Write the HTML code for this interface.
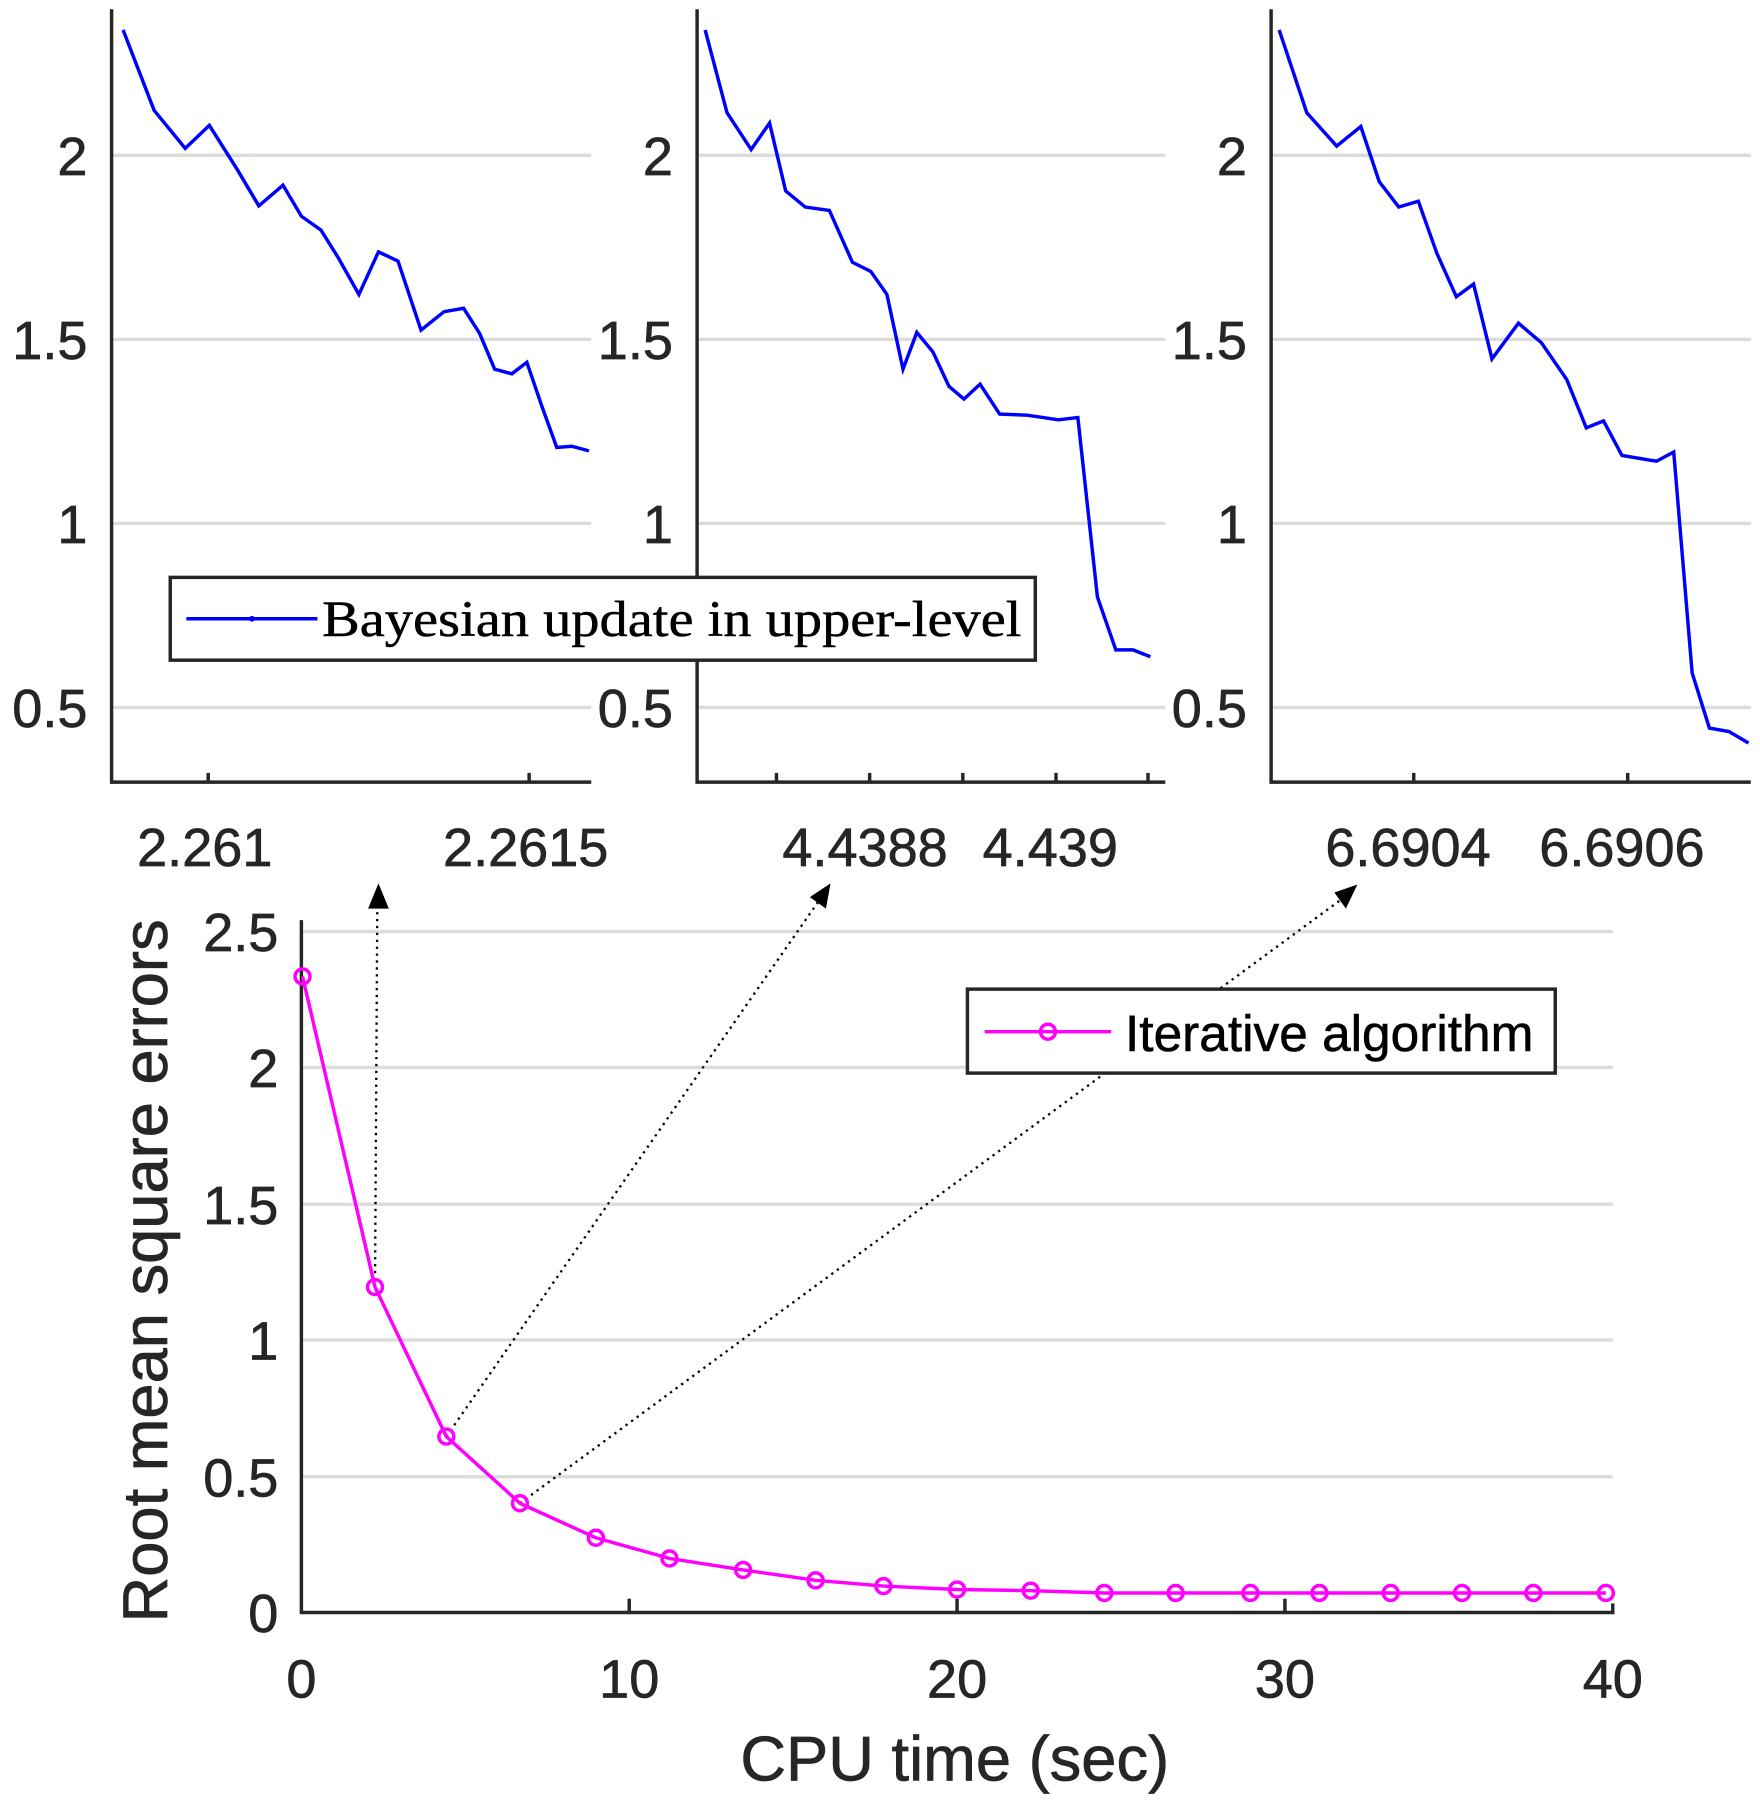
<!DOCTYPE html>
<html><head><meta charset="utf-8"><style>
html,body{margin:0;padding:0;background:#fff;}
svg{display:block;}
text{font-family:"Liberation Sans",sans-serif;fill:#262626;stroke:#262626;stroke-width:0.6;}
</style></head><body>
<svg width="1760" height="1800" viewBox="0 0 1530 1565" preserveAspectRatio="none" xmlns="http://www.w3.org/2000/svg">
<g stroke="#dcdcdc" stroke-width="3">
<line x1="97" y1="135" x2="514" y2="135"/><line x1="97" y1="295" x2="514" y2="295"/><line x1="97" y1="455" x2="514" y2="455"/><line x1="97" y1="615" x2="514" y2="615"/>
<line x1="606" y1="135" x2="1013" y2="135"/><line x1="606" y1="295" x2="1013" y2="295"/><line x1="606" y1="455" x2="1013" y2="455"/><line x1="606" y1="615" x2="1013" y2="615"/>
<line x1="1105" y1="135" x2="1522" y2="135"/><line x1="1105" y1="295" x2="1522" y2="295"/><line x1="1105" y1="455" x2="1522" y2="455"/><line x1="1105" y1="615" x2="1522" y2="615"/>
<line x1="262" y1="810" x2="1402" y2="810"/><line x1="262" y1="928" x2="1402" y2="928"/><line x1="262" y1="1047" x2="1402" y2="1047"/><line x1="262" y1="1165" x2="1402" y2="1165"/><line x1="262" y1="1284" x2="1402" y2="1284"/>
</g>
<g stroke="#262626" stroke-width="3" fill="none">
<polyline points="97,8 97,680 514,680"/><polyline points="606,8 606,680 1013,680"/><polyline points="1105,8 1105,680 1522,680"/>
<line x1="181" y1="680" x2="181" y2="672"/><line x1="460" y1="680" x2="460" y2="672"/>
<line x1="675" y1="680" x2="675" y2="672"/><line x1="756" y1="680" x2="756" y2="672"/><line x1="837" y1="680" x2="837" y2="672"/><line x1="918" y1="680" x2="918" y2="672"/><line x1="998" y1="680" x2="998" y2="672"/>
<line x1="1229" y1="680" x2="1229" y2="672"/><line x1="1415" y1="680" x2="1415" y2="672"/>
<polyline points="262,800 262,1402 1402,1402 1402,1394"/>
<line x1="547" y1="1402" x2="547" y2="1390"/><line x1="832" y1="1402" x2="832" y2="1390"/><line x1="1117" y1="1402" x2="1117" y2="1390"/>
</g>
<g font-size="47" text-anchor="end">
<text x="76" y="152">2</text><text x="76" y="312">1.5</text><text x="76" y="472">1</text><text x="76" y="632">0.5</text>
<text x="585" y="152">2</text><text x="585" y="312">1.5</text><text x="585" y="472">1</text><text x="585" y="632">0.5</text>
<text x="1084" y="152">2</text><text x="1084" y="312">1.5</text><text x="1084" y="472">1</text><text x="1084" y="632">0.5</text>
<text x="242" y="827">2.5</text><text x="242" y="945">2</text><text x="242" y="1064">1.5</text><text x="242" y="1182">1</text><text x="242" y="1301">0.5</text><text x="242" y="1419">0</text>
</g>
<g font-size="47" text-anchor="middle">
<text x="178" y="753">2.261</text><text x="457" y="753">2.2615</text>
<text x="752" y="753">4.4388</text><text x="913" y="753">4.439</text>
<text x="1224" y="753">6.6904</text><text x="1410" y="753">6.6906</text>
<text x="262" y="1476">0</text><text x="547" y="1476">10</text><text x="832" y="1476">20</text><text x="1117" y="1476">30</text><text x="1402" y="1476">40</text>
<text x="830" y="1548" font-size="55">CPU time (sec)</text>
<text transform="translate(145,1105) rotate(-90)" font-size="55">Root mean square errors</text>
</g>
<g stroke="#0000ff" stroke-width="3" fill="none">
<polyline points="107,26 134,96 161,129 182,109 206,147 225,179 246,161 262,188 279,200 294,224 312,256 329,219 346,227 366,287 386,271 403,268 417,290 430,321 445,325 458,315 471,353 484,389 497,388 512,392"/>
<polyline points="613,26 632,98 653,130 669,107 683,166 700,180 721,183 741,228 757,236 771,256 785,321 797,289 811,306 825,336 838,347 852,334 869,360 893,361 920,365 937,363 954,519 970,565 985,565 1000,571"/>
<polyline points="1112,26 1136,98 1162,127 1183,110 1199,158 1216,180 1233,175 1249,220 1266,258 1281,247 1297,312 1320,281 1340,298 1362,330 1379,372 1394,366 1410,396 1440,401 1455,393 1471,585 1486,633 1503,636 1520,646"/>
</g>
<rect x="148" y="502" width="752" height="72" fill="#fff" stroke="#262626" stroke-width="3"/>
<line x1="162" y1="538" x2="276" y2="538" stroke="#0000ff" stroke-width="3"/><circle cx="219" cy="538" r="2.5" fill="#0000ff"/>
<text x="280" y="553" font-size="44" textLength="608" lengthAdjust="spacingAndGlyphs" style="font-family:'Liberation Serif',serif;fill:#000;stroke:#000;stroke-width:0.4">Bayesian update in upper-level</text>
<g stroke="#000" stroke-width="2" stroke-dasharray="2,4" fill="none">
<line x1="326" y1="1119" x2="328" y2="785"/><line x1="388" y1="1249" x2="712" y2="783"/><line x1="452" y1="1307" x2="1166" y2="782"/>
</g>
<polygon points="329,768 320,790 338,790" fill="#000"/>
<polygon points="722,768 704,780 718,790" fill="#000"/>
<polygon points="1180,769 1160,776 1170,790" fill="#000"/>
<g stroke="#ff00ff" stroke-width="3" fill="none">
<polyline points="263,849 326,1119 388,1249 452,1307 518,1337 582,1355 646,1365 709,1374 768,1379 832,1382 896,1383 960,1385 1022,1385 1087,1385 1147,1385 1209,1385 1271,1385 1333,1385 1396,1385"/>
<g>
<circle cx="263" cy="849" r="6.5"/><circle cx="326" cy="1119" r="6.5"/><circle cx="388" cy="1249" r="6.5"/><circle cx="452" cy="1307" r="6.5"/><circle cx="518" cy="1337" r="6.5"/><circle cx="582" cy="1355" r="6.5"/><circle cx="646" cy="1365" r="6.5"/><circle cx="709" cy="1374" r="6.5"/><circle cx="768" cy="1379" r="6.5"/><circle cx="832" cy="1382" r="6.5"/><circle cx="896" cy="1383" r="6.5"/><circle cx="960" cy="1385" r="6.5"/><circle cx="1022" cy="1385" r="6.5"/><circle cx="1087" cy="1385" r="6.5"/><circle cx="1147" cy="1385" r="6.5"/><circle cx="1209" cy="1385" r="6.5"/><circle cx="1271" cy="1385" r="6.5"/><circle cx="1333" cy="1385" r="6.5"/><circle cx="1396" cy="1385" r="6.5"/>
</g></g>
<rect x="841" y="860" width="511" height="73" fill="#fff" stroke="#262626" stroke-width="3"/>
<line x1="856" y1="897" x2="966" y2="897" stroke="#ff00ff" stroke-width="3"/><circle cx="911" cy="897" r="6.5" fill="none" stroke="#ff00ff" stroke-width="3"/>
<text x="978" y="914" font-size="44" textLength="355" lengthAdjust="spacingAndGlyphs" style="fill:#000;stroke:#000;stroke-width:0.5">Iterative algorithm</text>
</svg>
</body></html>
